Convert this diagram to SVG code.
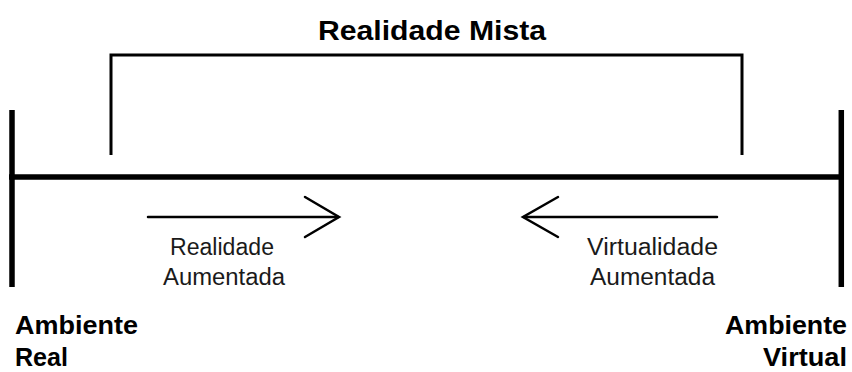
<svg xmlns="http://www.w3.org/2000/svg" width="852" height="372" viewBox="0 0 852 372">
  <style>
    .axis { stroke: #000; stroke-width: 5.5; fill: none; }
    .bracket { stroke: #000; stroke-width: 3; fill: none; stroke-linejoin: miter; }
    .arrow { stroke: #000; stroke-width: 2.5; fill: none; stroke-linecap: round; stroke-linejoin: miter; }
    .bold { font-family: "Liberation Sans", Arial, sans-serif; font-weight: bold; font-size: 26px; fill: #000; }
    .title { font-size: 27px; }
    .label { font-family: "Liberation Sans", Arial, sans-serif; font-size: 23px; fill: #1a1a1a; }
  </style>
  <rect width="852" height="372" fill="#ffffff"/>
  <g id="axis">
    <line class="axis" x1="9" y1="177" x2="844" y2="177"/>
    <line class="axis" x1="12" y1="110" x2="12" y2="287"/>
    <line class="axis" x1="841.3" y1="110" x2="841.3" y2="287"/>
  </g>
  <g id="realidade-mista">
    <polyline class="bracket" points="111,155 111,55 742,55 742,155"/>
    <text class="bold title" x="432" y="40" text-anchor="middle" textLength="228" lengthAdjust="spacingAndGlyphs">Realidade Mista</text>
  </g>
  <g id="connectors">
    <g id="arrow-ra">
      <line class="arrow" x1="148" y1="217" x2="338" y2="217"/>
      <polyline class="arrow" points="305,197 339,217 305,237"/>
    </g>
    <g id="arrow-va">
      <line class="arrow" x1="717" y1="217" x2="524" y2="217"/>
      <polyline class="arrow" points="558,197 523,217 558,237"/>
    </g>
  </g>
  <g id="realidade-aumentada">
    <text class="label" x="222" y="255" text-anchor="middle" textLength="104" lengthAdjust="spacingAndGlyphs">Realidade</text>
    <text class="label" x="224" y="284.5" text-anchor="middle" textLength="122" lengthAdjust="spacingAndGlyphs">Aumentada</text>
  </g>
  <g id="virtualidade-aumentada">
    <text class="label" x="652.5" y="255" text-anchor="middle" textLength="131" lengthAdjust="spacingAndGlyphs">Virtualidade</text>
    <text class="label" x="652.5" y="284.5" text-anchor="middle" textLength="125" lengthAdjust="spacingAndGlyphs">Aumentada</text>
  </g>
  <g id="ambiente-real">
    <text class="bold" x="15" y="334" textLength="123" lengthAdjust="spacingAndGlyphs">Ambiente</text>
    <text class="bold" x="15" y="366" textLength="53" lengthAdjust="spacingAndGlyphs">Real</text>
  </g>
  <g id="ambiente-virtual">
    <text class="bold" x="847" y="334" text-anchor="end" textLength="122" lengthAdjust="spacingAndGlyphs">Ambiente</text>
    <text class="bold" x="847" y="366" text-anchor="end" textLength="84" lengthAdjust="spacingAndGlyphs">Virtual</text>
  </g>
</svg>
